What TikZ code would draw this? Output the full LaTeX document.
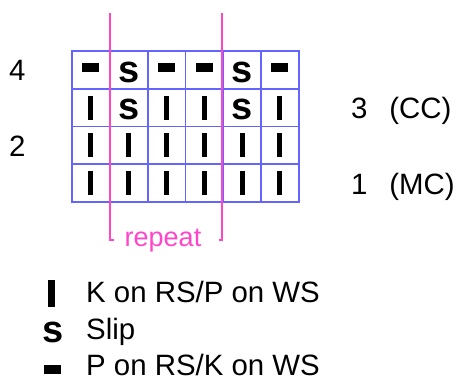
\documentclass[tikz,border=0pt]{standalone}
\usepackage{fontspec}
\setmainfont{Liberation Sans}
\definecolor{gridblue}{RGB}{100,100,255}
\definecolor{rptpink}{RGB}{255,70,200}
\begin{document}
\begin{tikzpicture}[x=1pt,y=-1pt,
  lbl/.style={font=\fontsize{29.4}{34}\selectfont, inner sep=0pt},
  kbar/.style={fill=black, inner sep=0pt, minimum width=5pt, minimum height=24pt},
  pdash/.style={fill=black, inner sep=0pt, minimum width=17pt, minimum height=8.5pt},
  slip/.style={font=\fontsize{38}{40}\selectfont\bfseries, inner sep=0pt},
  gridline/.style={draw=gridblue, line width=1.8pt},
  rpt/.style={draw=rptpink, line width=1.5pt}]
\useasboundingbox (0,0) rectangle (461,381);
% grid lines
\foreach \i in {1,...,5} \draw[gridline] ({72+37.8*\i},51) -- ({72+37.8*\i},202);
\foreach \j in {1,...,3} \draw[gridline] (72,{51+37.75*\j}) -- (298.8,{51+37.75*\j});
\draw[gridline] (72,51) rectangle (298.8,202);
% row 4 (top)
\foreach \c/\t in {0/d,1/s,2/d,3/d,4/s,5/d}{
  \pgfmathsetmacro\xx{72+37.8*(\c+0.5)}
  \if\t d\node[pdash] (r4c\c) at (\xx,67.5) {};\else\node[slip] (r4c\c) at (\xx,72) {s};\fi
}
% row 3
\foreach \c/\t in {0/k,1/s,2/k,3/k,4/s,5/k}{
  \pgfmathsetmacro\xx{72+37.8*(\c+0.5)}
  \if\t k\node[kbar] (r3c\c) at (\xx,107.6) {};\else\node[slip] (r3c\c) at (\xx,109.6) {s};\fi
}
% rows 2 and 1
\foreach \c in {0,...,5}{
  \pgfmathsetmacro\xx{72+37.8*(\c+0.5)}
  \node[kbar] (r2c\c) at (\xx,145.4) {};
  \node[kbar] (r1c\c) at (\xx,183.1) {};
}
% row labels
\node[lbl, anchor=base west] (l4) at (9,80.5) {4};
\node[lbl, anchor=base west] (l2) at (9,156) {2};
\node[lbl, anchor=base west] (l3) at (351,118) {3\hspace{0.74em}(CC)};
\node[lbl, anchor=base west] (l1) at (351,194) {1\hspace{0.74em}(MC)};
% repeat bracket
\coordinate (rlt) at (110,13);
\coordinate (rlb) at (110,240);
\coordinate (rlk) at (113.5,240);
\coordinate (rrt) at (222,13);
\coordinate (rrb) at (222,240);
\coordinate (rrk) at (218.5,240);
\draw[rpt] (rlk) -- (rlb) -- (rlt);
\draw[rpt] (rrk) -- (rrb) -- (rrt);
\node[font=\fontsize{27}{32}\selectfont, inner sep=0pt, text=rptpink, anchor=base] (rep) at (163,246) {repeat};
% legend
\node[fill=black, inner sep=0pt, minimum width=7pt, minimum height=27pt] (lk) at (51.5,293.5) {};
\node[slip] (ls) at (53,332) {s};
\node[pdash] (lp) at (52.5,369.5) {};
\node[lbl, anchor=base west] (tk) at (86,302) {K on RS/P on WS};
\node[lbl, anchor=base west] (ts) at (86,339) {Slip};
\node[lbl, anchor=base west] (tp) at (86,375.5) {P on RS/K on WS};
\end{tikzpicture}
\end{document}
